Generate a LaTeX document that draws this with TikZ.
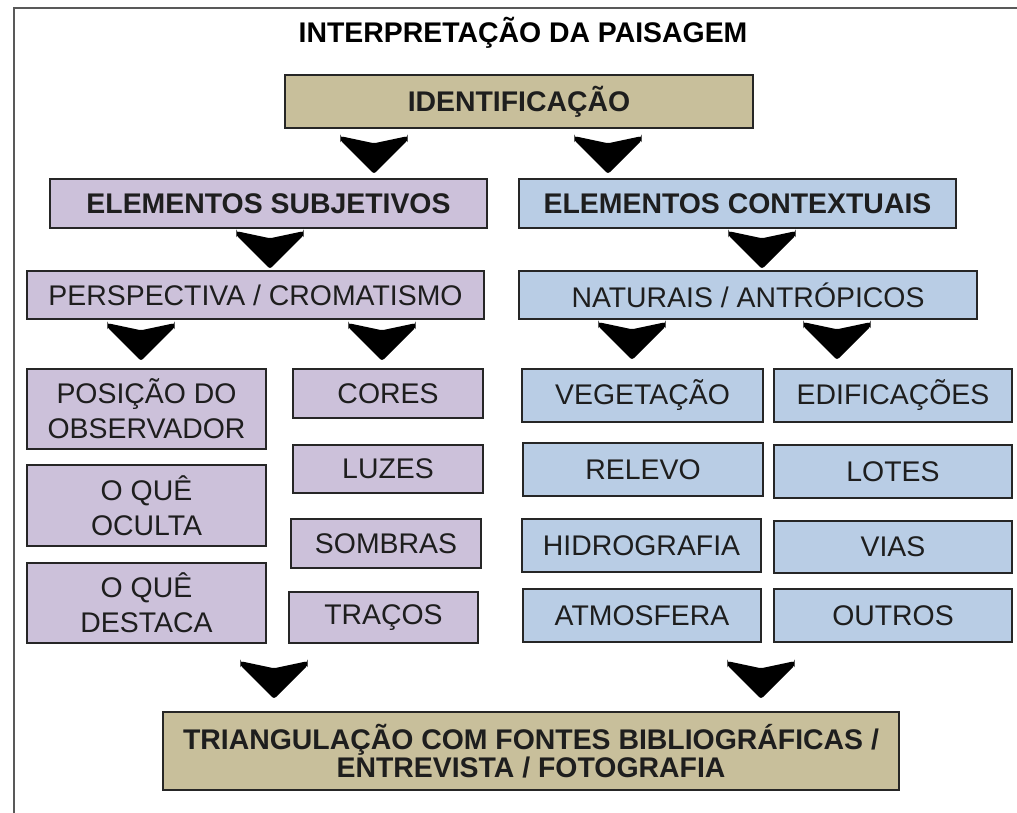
\documentclass[tikz,border=0pt]{standalone}
\usepackage{fontspec}
\setmainfont{Liberation Sans}
\usetikzlibrary{positioning, calc}
\definecolor{bege}{HTML}{C8BF9B}
\definecolor{lilas}{HTML}{CCC1DA}
\definecolor{azul}{HTML}{B9CDE5}
\definecolor{texto}{HTML}{1E1E1E}
\tikzstyle{caixa} = [draw=black!85, line width=1.3pt, rectangle, inner sep=0pt, text=texto, align=center, font=\fontsize{20.2}{25}\selectfont]
\tikzstyle{forte} = [caixa, font=\fontsize{20.2}{20}\selectfont\bfseries]
\tikzstyle{bege} = [forte, fill=bege]
\tikzstyle{subj} = [caixa, fill=lilas]
\tikzstyle{cont} = [caixa, fill=azul]
\tikzstyle{chevron} = [fill=black, draw=black, line width=1pt, rounded corners=1.5pt]
\tikzstyle{moldura} = [draw=black!65, line width=1.8pt]
\newcommand{\seta}[2]{\filldraw[chevron] ({#1-33},#2) -- ++(33,7) -- ++(33,-7) -- ++(0,3) -- ++(-33,33) -- ++(-33,-33) -- cycle;}

\begin{document}
\begin{tikzpicture}[x=0.025cm, y=-0.025cm]
    \useasboundingbox (0,0) rectangle (1017,813);
    \draw[moldura] (14,813) -- (14,8) -- (1017,8);

    % --- titulo
    \node[font=\fontsize{20.2}{20}\selectfont\bfseries, anchor=base] (titulo) at (523,43) {INTERPRETAÇÃO DA PAISAGEM};
    \node[bege, minimum width=11.7cm, minimum height=1.325cm] (ident) at (519,101.5) {IDENTIFICAÇÃO};
    \seta{374}{137}
    \seta{608}{137}

    % --- elementos
    \node[subj, forte, fill=lilas, minimum width=10.925cm, minimum height=1.225cm] (subjetivos) at (268.5,203.5) {ELEMENTOS SUBJETIVOS};
    \node[cont, forte, fill=azul, minimum width=10.925cm, minimum height=1.225cm] (contextuais) at (737.5,203.5) {ELEMENTOS CONTEXTUAIS};
    \seta{270}{232}
    \seta{762}{232}

    \node[subj, minimum width=11.425cm, minimum height=1.2cm] (perspectiva) at (255.5,295) {PERSPECTIVA / CROMATISMO};
    \node[cont, minimum width=11.45cm, minimum height=1.2cm] (naturais) at (748,295) {NATURAIS / ANTRÓPICOS};
    \seta{141}{324}
    \seta{382}{324}
    \seta{632}{323}
    \seta{837}{323}

    % --- subjetivos
    \node[subj, minimum width=5.975cm, minimum height=2cm] (posicao) at (146.5,409) {POSIÇÃO DO\\OBSERVADOR};
    \node[subj, minimum width=5.975cm, minimum height=2.025cm] (oculta) at (146.5,505.5) {O QUÊ\\OCULTA};
    \node[subj, minimum width=5.975cm, minimum height=2cm] (destaca) at (146.5,603) {O QUÊ\\DESTACA};
    \node[subj, minimum width=4.75cm, minimum height=1.225cm] (cores) at (388,393.5) {CORES};
    \node[subj, minimum width=4.75cm, minimum height=1.2cm] (luzes) at (388,469) {LUZES};
    \node[subj, minimum width=4.75cm, minimum height=1.225cm] (sombras) at (386,543.5) {SOMBRAS};
    \node[subj, minimum width=4.725cm, minimum height=1.275cm] (tracos) at (383.5,617.5) {TRAÇOS};

    % --- contextuais
    \node[cont, minimum width=6.025cm, minimum height=1.325cm] (vegetacao) at (642.5,395.5) {VEGETAÇÃO};
    \node[cont, minimum width=6cm, minimum height=1.325cm] (relevo) at (643,469.5) {RELEVO};
    \node[cont, minimum width=5.975cm, minimum height=1.325cm] (hidrografia) at (641.5,545.5) {HIDROGRAFIA};
    \node[cont, minimum width=5.95cm, minimum height=1.325cm] (atmosfera) at (642,615.5) {ATMOSFERA};
    \node[cont, minimum width=5.95cm, minimum height=1.325cm] (edificacoes) at (893,395.5) {EDIFICAÇÕES};
    \node[cont, minimum width=5.95cm, minimum height=1.325cm] (lotes) at (893,471.5) {LOTES};
    \node[cont, minimum width=5.95cm, minimum height=1.3cm] (vias) at (893,547) {VIAS};
    \node[cont, minimum width=5.95cm, minimum height=1.325cm] (outros) at (893,615.5) {OUTROS};

    % --- triangulacao
    \seta{274}{662}
    \seta{761}{662}
    \node[bege, minimum width=18.4cm, minimum height=1.95cm] (triangulacao) at (531,751) {TRIANGULAÇÃO COM FONTES BIBLIOGRÁFICAS /\\ENTREVISTA / FOTOGRAFIA};

\end{tikzpicture}
\end{document}
